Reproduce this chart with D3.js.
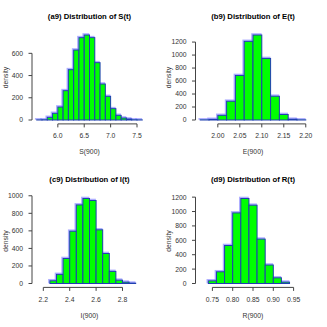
<!DOCTYPE html>
<html>
<head>
<script src="https://cdn.jsdelivr.net/npm/d3@7"></script>
<style>
  body { margin: 0; background: #fff; }
  text { font-family: "Liberation Sans", Arial, sans-serif; }
</style>
</head>
<body>
<script>

// densities per bin
var sDens = [1, 2, 24, 60, 117, 264, 453, 630, 741, 765, 741, 516, 324, 213, 102, 42, 18, 9, 2, 1];
var eDens = [2, 10, 72, 289, 686, 1211, 1309, 948, 366, 85, 12, 2];
var iDens = [0, 0, 31, 104, 285, 596, 896, 969, 946, 612, 342, 138, 38, 15, 4, 0];
var rDens = [0, 37, 163, 528, 981, 1181, 1088, 617, 257, 79, 19, 0, 0];

// first break and bin width of each histogram
var firstBreak = [5.6, 1.96, 2.15, 0.72];
var binWidth = [0.1, 0.02, 0.05, 0.02];

var xTicks = [[6.0, 6.5, 7.0, 7.5], [2.00, 2.05, 2.10, 2.15, 2.20], [2.2, 2.4, 2.6, 2.8], [0.75, 0.80, 0.85, 0.90, 0.95]];
var xFormat = [".1f", ".2f", ".1f", ".2f"];
var yTicks = [[0, 200, 400, 600], [0, 200, 400, 600, 800, 1000, 1200], [0, 200, 400, 600, 800, 1000], [0, 200, 400, 600, 800, 1000, 1200]];

var titles = ["(a9) Distribution of S(t)", "(b9) Distribution of E(t)", "(c9) Distribution of I(t)", "(d9) Distribution of R(t)"];
var xLabels = ["S(900)", "E(900)", "I(900)", "R(900)"];

var allDens = [sDens, eDens, iDens, rDens];

var svg = d3.select("body").append("svg")
    .attr("width", 327)
    .attr("height", 327);

var cell = 163.5;
var plot = { left: 32.5, right: 146.5, top: 31.6, bottom: 123.4 };

for (var p = 0; p < 4; p++) {
  var dens = allDens[p];
  var bins = dens.map(function (d, i) {
    return { x0: firstBreak[p] + i * binWidth[p], x1: firstBreak[p] + (i + 1) * binWidth[p], y: d };
  });
  var lo = bins[0].x0, hi = bins[bins.length - 1].x1;
  var ymax = d3.max(dens);

  var x = d3.scaleLinear()
      .domain([lo - 0.04 * (hi - lo), hi + 0.04 * (hi - lo)])
      .range([plot.left, plot.right]);
  var y = d3.scaleLinear()
      .domain([-0.04 * ymax, 1.04 * ymax])
      .range([plot.bottom, plot.top]);

  var g = svg.append("g")
      .attr("transform", "translate(" + (p % 2) * cell + "," + Math.floor(p / 2) * cell + ")");

  // soft lavender halo behind the bars
  g.selectAll("rect.halo")
      .data(bins)
      .enter()
      .append("rect")
      .attr("class", "halo")
      .attr("x", function (d) { return x(d.x0) - 1; })
      .attr("y", function (d) { return y(d.y) - 1; })
      .attr("width", function (d) { return x(d.x1) - x(d.x0); })
      .attr("height", function (d) { return y(0) - y(d.y); })
      .style("fill", "none")
      .style("stroke", "#8c8cff")
      .style("stroke-width", 1.6)
      .style("opacity", 0.7);

  g.selectAll("rect.bar")
      .data(bins)
      .enter()
      .append("rect")
      .attr("class", "bar")
      .attr("x", function (d) { return x(d.x0); })
      .attr("y", function (d) { return y(d.y); })
      .attr("width", function (d) { return x(d.x1) - x(d.x0); })
      .attr("height", function (d) { return y(0) - y(d.y); })
      .style("fill", "#00ff00")
      .style("stroke", "#1f3fb0")
      .style("stroke-width", 1);

  // x axis, line only spans the ticks like R does
  var xt = xTicks[p];
  var xa = g.append("g").attr("transform", "translate(0," + (plot.bottom + 0.5) + ")");
  xa.append("line")
      .attr("x1", x(xt[0])).attr("x2", x(xt[xt.length - 1]))
      .style("stroke", "#444").style("stroke-width", 1);
  xa.selectAll("line.tick").data(xt).enter().append("line")
      .attr("x1", function (d) { return x(d); }).attr("x2", function (d) { return x(d); })
      .attr("y1", 0).attr("y2", 3.5)
      .style("stroke", "#444").style("stroke-width", 1);
  xa.selectAll("text").data(xt).enter().append("text")
      .attr("x", function (d) { return x(d); })
      .attr("y", 14.3)
      .attr("text-anchor", "middle")
      .style("font-size", "6.8px")
      .style("fill", "#333")
      .text(function (d) { return d3.format(xFormat[p])(d); });

  // y axis
  var yt = yTicks[p];
  var ya = g.append("g").attr("transform", "translate(" + (plot.left - 0.5) + ",0)");
  ya.append("line")
      .attr("y1", y(yt[0])).attr("y2", y(yt[yt.length - 1]))
      .style("stroke", "#444").style("stroke-width", 1);
  ya.selectAll("line.tick").data(yt).enter().append("line")
      .attr("y1", function (d) { return y(d); }).attr("y2", function (d) { return y(d); })
      .attr("x1", -3.5).attr("x2", 0)
      .style("stroke", "#444").style("stroke-width", 1);
  ya.selectAll("text").data(yt).enter().append("text")
      .attr("x", -9)
      .attr("y", function (d) { return y(d) + 2.4; })
      .attr("text-anchor", "end")
      .style("font-size", "6.8px")
      .style("fill", "#333")
      .text(function (d) { return d; });

  g.append("text")
      .attr("x", (plot.left + plot.right) / 2)
      .attr("y", 18.5)
      .attr("text-anchor", "middle")
      .style("font-size", "7.7px")
      .style("font-weight", "bold")
      .text(titles[p]);

  g.append("text")
      .attr("x", (plot.left + plot.right) / 2)
      .attr("y", 154)
      .attr("text-anchor", "middle")
      .style("font-size", "6.8px")
      .style("fill", "#333")
      .text(xLabels[p]);

  g.append("text")
      .attr("transform", "translate(7.5," + (plot.top + plot.bottom) / 2 + ") rotate(-90)")
      .attr("text-anchor", "middle")
      .style("font-size", "6.8px")
      .style("fill", "#333")
      .text("density");
}

</script>
</body>
</html>
